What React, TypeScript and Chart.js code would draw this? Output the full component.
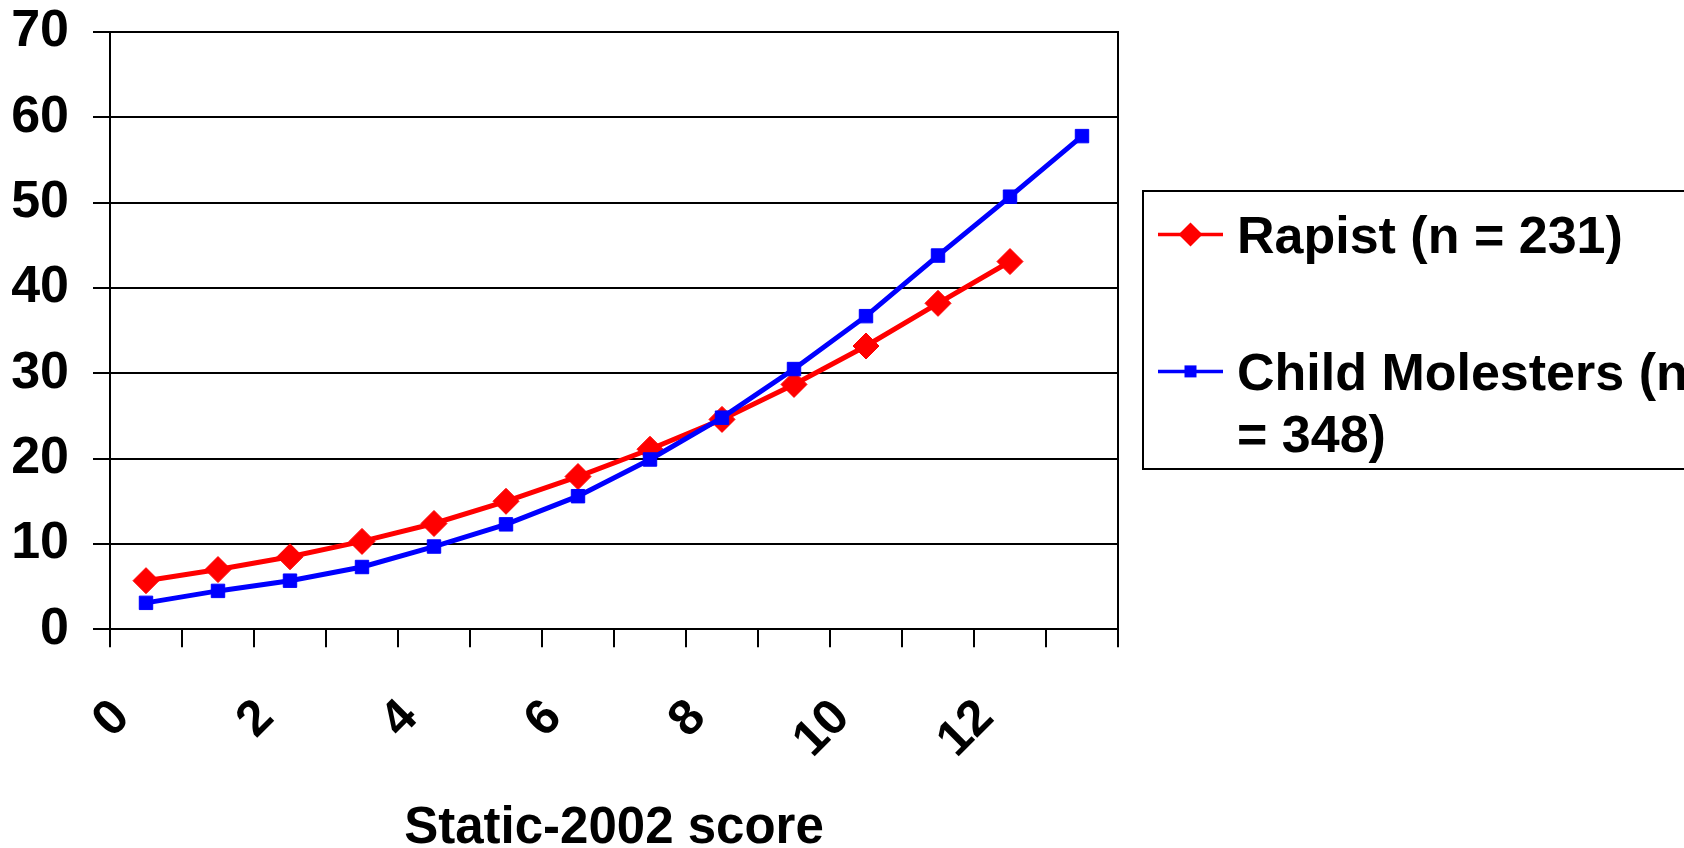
import React, { useEffect, useRef } from 'react';
import { Chart, registerables } from 'chart.js';

Chart.register(...registerables);

// ---------- data ----------
const scores = ['0', '1', '2', '3', '4', '5', '6', '7', '8', '9', '10', '11', '12', '13'];
const rapistLabel = 'Rapist (n = 231)';
const childLabel = 'Child Molesters (n = 348)';
const rapistValues = [5.7, 7.0, 8.5, 10.3, 12.4, 15.0, 17.9, 21.1, 24.6, 28.7, 33.2, 38.2, 43.1];
const childValues = [3.1, 4.5, 5.7, 7.3, 9.7, 12.3, 15.6, 19.9, 24.8, 30.5, 36.7, 43.8, 50.7, 57.8];
const yMin = 0;
const yMax = 70;
const yStep = 10;
const xTitle = 'Static-2002 score';

const FONT = '"Liberation Sans", Arial, Helvetica, sans-serif';
const W = 1684;
const H = 848;

function wrapText(ctx: CanvasRenderingContext2D, text: string, maxWidth: number): string[] {
  const words = text.split(' ');
  const lines: string[] = [];
  let cur = '';
  for (const w of words) {
    const test = cur ? cur + ' ' + w : w;
    if (cur && ctx.measureText(test).width > maxWidth) {
      lines.push(cur);
      cur = w;
    } else {
      cur = test;
    }
  }
  if (cur) lines.push(cur);
  return lines;
}

const boxLegend = {
  id: 'boxLegend',
  afterDraw(chart: any) {
    const ctx: CanvasRenderingContext2D = chart.ctx;
    ctx.save();
    ctx.strokeStyle = '#000';
    ctx.lineWidth = 2;
    ctx.strokeRect(1143, 191, 700, 278);
    ctx.font = `bold 52px ${FONT}`;
    ctx.textAlign = 'left';
    ctx.textBaseline = 'alphabetic';
    const baselines = [253, 390];
    chart.data.datasets.forEach((ds: any, i: number) => {
      const yb = baselines[i];
      const ys = yb - 18.6;
      ctx.strokeStyle = ds.borderColor;
      ctx.fillStyle = ds.borderColor;
      ctx.lineWidth = 3.5;
      ctx.beginPath();
      ctx.moveTo(1158, ys);
      ctx.lineTo(1223, ys);
      ctx.stroke();
      const cx = 1190.5;
      ctx.beginPath();
      if (ds.pointStyle === 'rectRot') {
        const r = 12;
        ctx.moveTo(cx - r, ys);
        ctx.lineTo(cx, ys - r);
        ctx.lineTo(cx + r, ys);
        ctx.lineTo(cx, ys + r);
        ctx.closePath();
      } else {
        const s = 6;
        ctx.rect(cx - s, ys - s, 2 * s, 2 * s);
      }
      ctx.fill();
      ctx.fillStyle = '#000';
      const lines = wrapText(ctx, ds.label, 470);
      lines.forEach((t, j) => ctx.fillText(t, 1237, yb + j * 62));
    });
    ctx.restore();
  },
};

const zeroPad = (scale: any) => {
  scale.paddingTop = 0;
  scale.paddingBottom = 0;
  scale.paddingLeft = 0;
  scale.paddingRight = 0;
};

export default function App() {
  const canvasRef = useRef<HTMLCanvasElement | null>(null);

  useEffect(() => {
    if (!canvasRef.current) return;
    const chart = new Chart(canvasRef.current, {
      type: 'line',
      data: {
        labels: scores,
        datasets: [
          {
            label: rapistLabel,
            data: rapistValues,
            borderColor: '#FF0000',
            backgroundColor: '#FF0000',
            borderWidth: 5,
            pointStyle: 'rectRot',
            pointRadius: 13,
            pointBorderWidth: 1,
            pointBackgroundColor: '#FF0000',
            pointBorderColor: '#FF0000',
            tension: 0,
            order: 1,
          },
          {
            label: childLabel,
            data: childValues,
            borderColor: '#0000FF',
            backgroundColor: '#0000FF',
            borderWidth: 5,
            pointStyle: 'rect',
            pointRadius: 9.5,
            pointBorderWidth: 1,
            pointBackgroundColor: '#0000FF',
            pointBorderColor: '#0000FF',
            tension: 0,
            order: 0,
          },
        ],
      },
      options: {
        responsive: false,
        animation: false,
        devicePixelRatio: 1,
        layout: { padding: { top: 32, left: 0, right: 0, bottom: 0 } },
        plugins: {
          legend: { display: false },
          tooltip: { enabled: false },
          title: { display: false },
        },
        scales: {
          x: {
            type: 'category',
            offset: true,
            grid: {
              offset: true,
              drawOnChartArea: false,
              drawTicks: true,
              tickLength: 18,
              color: '#000',
              lineWidth: 2,
            },
            border: { display: true, color: '#000', width: 2 },
            ticks: {
              autoSkip: false,
              maxRotation: 45,
              minRotation: 45,
              padding: 41,
              labelOffset: -24,
              color: '#000',
              font: { family: FONT, size: 50, weight: 'bold' },
              callback: function (this: any, value: any, index: number) {
                return index % 2 === 0 ? this.getLabelForValue(value) : '';
              },
            },
            title: {
              display: true,
              text: xTitle,
              color: '#000',
              font: { family: FONT, size: 51, weight: 'bold' },
              padding: { top: 0, bottom: -12 },
            },
            afterFit: (scale: any) => {
              zeroPad(scale);
              scale.height = 218.7;
            },
          },
          y: {
            type: 'linear',
            position: 'left',
            min: yMin,
            max: yMax,
            grid: {
              color: '#000',
              lineWidth: 2,
              drawTicks: true,
              tickLength: 17,
            },
            border: { display: true, color: '#000', width: 2 },
            ticks: {
              stepSize: yStep,
              padding: 24,
              color: '#000',
              font: { family: FONT, size: 52, weight: 'bold' },
            },
            afterFit: (scale: any) => {
              zeroPad(scale);
              scale.width = 110;
            },
          },
          y2: {
            type: 'linear',
            position: 'right',
            display: true,
            grid: { display: false, drawTicks: false },
            ticks: { display: false },
            border: { display: true, color: '#000', width: 2 },
            afterFit: (scale: any) => {
              zeroPad(scale);
              scale.width = 566;
            },
          },
        },
      } as any,
      plugins: [boxLegend],
    });
    return () => chart.destroy();
  }, []);

  return (
    <div style={{ position: 'absolute', left: 0, top: 0, width: W, height: H, background: '#fff' }}>
      <canvas ref={canvasRef} width={W} height={H} style={{ display: 'block', width: W, height: H }} />
    </div>
  );
}
